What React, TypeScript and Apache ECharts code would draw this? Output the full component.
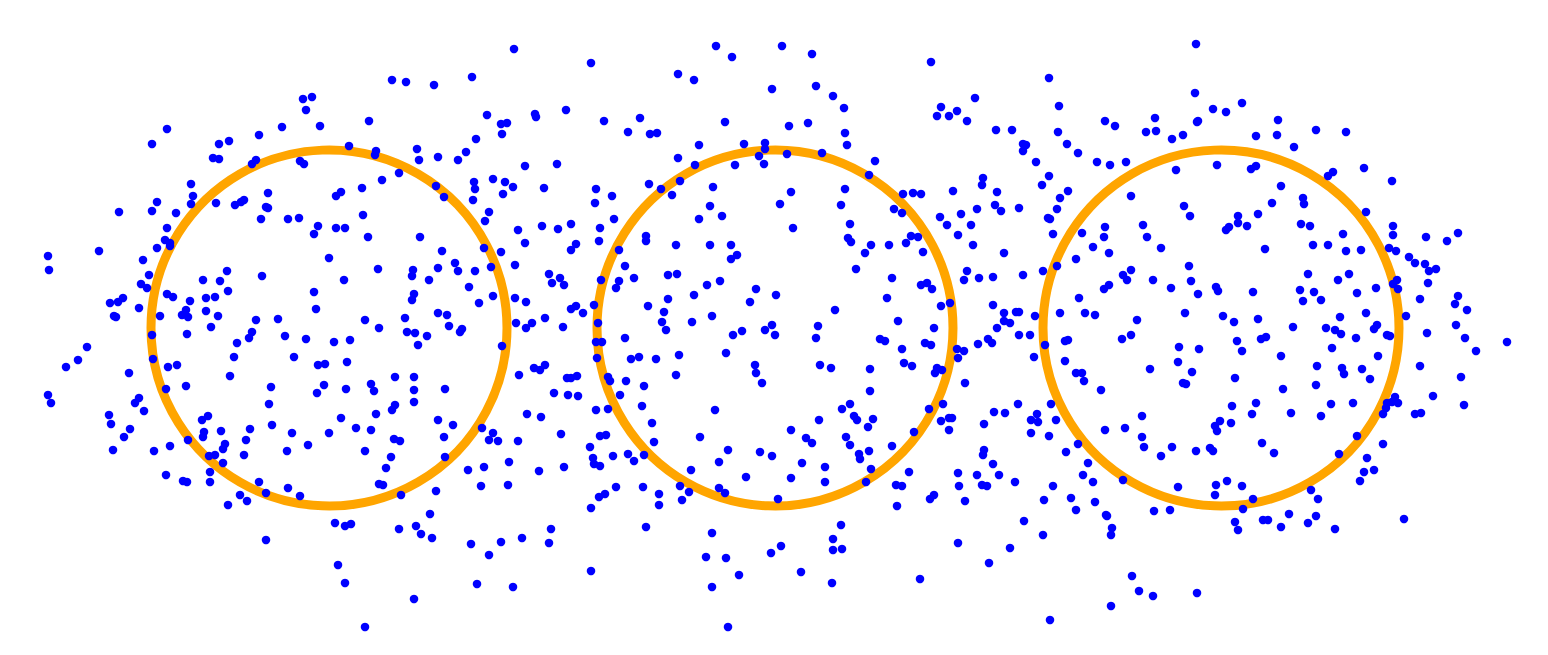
import { useEffect, useRef } from "react";
import * as echarts from "echarts";

// Blue scatter points (x to the right, y downward, image units)
const upperPoints: number[][] = [
  [303,99],[312,97],[306,110],[167,129],[152,144],[282,127],[320,126],[369,121],[259,135],[219,144],[229,141],[213,158],[219,159],[349,146],[375,155],[376,151],[252,164],[256,160],[300,161],[304,164],[382,180],[191,184],[193,196],[191,204],[157,202],[152,211],[119,212],[176,213],[216,203],[235,205],[241,202],[244,200],[268,193],[266,207],[268,208],[261,219],[288,219],[299,218],[336,196],[341,192],[362,188],[363,215],[318,226],[314,234],[336,228],[345,228],[368,237],[167,228],
  [392,80],[406,82],[434,85],[472,77],[514,49],[591,63],[716,46],[732,57],[678,74],[694,80],[772,89],[487,115],[501,124],[507,123],[502,134],[535,114],[536,117],[566,110],[604,121],[640,118],[628,132],[650,134],[657,133],[725,122],[476,139],[417,149],[419,160],[438,157],[458,160],[466,152],[525,166],[557,164],[699,145],[744,144],[765,143],[765,149],[759,156],[764,164],[678,158],[695,165],[735,165],[399,173],[436,186],[444,197],[474,182],[475,189],[473,200],[493,179],[505,182],[513,187],[503,194],[544,188],[489,212],[485,221],[518,230],[542,226],[558,229],[571,224],[596,189],[595,203],[612,196],[614,219],[600,228],[649,184],[661,189],[680,181],[672,195],[713,187],[710,206],[722,216],[699,219],[646,236],[420,237],
  [782,46],[812,54],[816,86],[833,96],[844,108],[931,62],[1049,78],[975,98],[941,107],[937,116],[949,116],[957,111],[967,121],[1059,106],[789,126],[808,123],[845,133],[847,145],[996,130],[1012,130],[1058,132],[1105,121],[1115,126],[1155,118],[1146,132],[1156,131],[1023,144],[1026,145],[1023,151],[1067,144],[1078,153],[787,154],[822,153],[875,161],[869,175],[1036,162],[1049,176],[1042,185],[1097,162],[1110,165],[1126,162],[791,192],[780,204],[845,189],[841,205],[850,224],[793,228],[903,194],[913,193],[921,194],[894,209],[902,213],[983,178],[982,185],[953,191],[997,192],[995,205],[1001,211],[977,209],[1019,208],[961,214],[940,217],[947,225],[971,225],[958,235],[1068,191],[1060,198],[1057,209],[1048,218],[1050,219],[1053,234],[1131,196],[1082,233],[1105,227],[1143,225],[1104,237],[1147,237],[911,236],[918,237],
  [1196,44],[1195,93],[1213,109],[1226,112],[1242,103],[1197,122],[1198,121],[1172,139],[1183,135],[1278,120],[1277,135],[1256,136],[1316,130],[1346,132],[1294,147],[1176,170],[1217,165],[1251,169],[1256,166],[1328,176],[1333,172],[1364,168],[1392,181],[1281,186],[1303,198],[1304,204],[1272,203],[1258,214],[1184,206],[1190,216],[1238,216],[1238,223],[1226,230],[1229,227],[1247,226],[1301,224],[1310,226],[1366,212],[1343,234],[1393,226],[1393,235],[1426,237],[1458,233]
];

const middlePoints: number[][] = [
  [165,240],[170,243],[170,246],[48,256],[49,270],[99,251],[157,248],[143,260],[149,275],[141,284],[147,288],[110,303],[118,302],[123,298],[114,316],[116,317],[139,308],[167,294],[173,297],[160,316],[190,301],[186,310],[182,315],[188,317],[206,298],[215,297],[203,280],[220,281],[227,271],[228,291],[206,311],[218,316],[211,327],[187,334],[152,335],[262,276],[314,292],[316,309],[329,258],[344,280],[378,269],[365,320],[379,328],[256,320],[278,319],[252,332],[249,338],[237,343],[285,336],[306,339],[334,342],[350,340],[234,357],[294,357],[318,365],[325,364],[347,362],[87,347],[78,360],[66,367],[153,359],[168,367],[177,365],[129,373],[230,376],[186,386],[166,389],[271,387],[269,404],[324,385],[317,393],[346,389],[371,384],[374,391],[48,395],[51,403],[139,398],[135,403],[144,411],[109,415],[111,424],[130,429],[124,437],[202,420],[208,416],[204,432],[203,437],[188,440],[221,431],[250,429],[246,440],[272,425],[292,433],[329,433],[341,418],[356,428],[371,430],[376,414],
  [442,251],[484,248],[501,252],[525,243],[571,250],[576,244],[599,241],[646,241],[676,245],[710,245],[731,245],[737,255],[731,259],[619,250],[625,266],[455,263],[458,271],[438,268],[413,270],[412,276],[429,280],[475,271],[491,267],[469,287],[515,265],[549,274],[560,278],[552,283],[564,285],[601,280],[619,281],[616,288],[634,278],[668,275],[677,274],[707,285],[720,281],[756,289],[414,294],[412,300],[493,296],[479,303],[515,298],[526,302],[571,309],[576,306],[583,313],[594,305],[648,306],[668,299],[694,295],[750,302],[664,312],[662,322],[666,330],[712,316],[692,322],[405,318],[438,313],[447,315],[449,326],[460,332],[462,329],[407,332],[415,333],[427,336],[418,345],[516,323],[526,328],[532,323],[545,318],[563,327],[598,323],[625,338],[733,335],[742,331],[765,330],[772,325],[502,346],[596,342],[602,342],[597,358],[631,359],[639,357],[656,359],[679,355],[726,353],[395,377],[414,377],[414,390],[414,402],[395,405],[392,410],[445,389],[519,375],[534,368],[540,370],[545,365],[567,378],[571,378],[577,376],[554,393],[568,395],[578,396],[608,377],[610,381],[626,381],[644,386],[620,395],[676,375],[755,365],[756,373],[762,383],[642,406],[596,410],[608,409],[527,414],[541,417],[438,420],[453,425],[444,437],[482,428],[493,433],[489,440],[498,441],[394,439],[400,441],[518,441],[561,434],[600,436],[606,435],[652,423],[654,442],[700,437],[715,410],
  [848,238],[851,242],[776,295],[775,335],[865,253],[871,245],[889,245],[906,243],[923,252],[856,269],[892,278],[921,285],[927,283],[932,289],[973,245],[1004,253],[967,271],[964,280],[979,278],[993,277],[1023,275],[1043,271],[1057,266],[1076,259],[1093,247],[1109,253],[1123,275],[1127,280],[1131,270],[1104,289],[1109,285],[1153,280],[887,298],[835,310],[818,326],[816,338],[898,321],[880,339],[885,341],[902,349],[934,328],[941,306],[950,303],[925,343],[931,345],[993,305],[1004,313],[1016,312],[1019,312],[1004,321],[1010,323],[997,328],[1035,316],[1019,335],[1030,335],[978,344],[988,339],[992,343],[957,349],[964,351],[958,358],[1045,345],[1034,357],[1060,313],[1079,298],[1085,313],[1095,315],[1137,320],[1131,335],[1122,339],[1065,341],[1068,340],[1065,361],[1076,373],[1082,373],[1084,381],[1101,390],[1150,369],[820,365],[831,368],[870,369],[904,363],[912,366],[937,368],[942,370],[935,373],[870,391],[965,383],[842,409],[850,404],[854,416],[857,420],[873,419],[868,427],[819,420],[791,430],[806,438],[846,437],[929,409],[943,404],[941,421],[949,418],[952,418],[949,430],[914,432],[994,412],[1005,413],[1018,404],[984,424],[1031,420],[1037,414],[1038,422],[1051,404],[1056,420],[1031,433],[1049,436],[1105,430],[1125,428],[1142,416],[1142,437],
  [1447,241],[1161,248],[1265,249],[1313,245],[1328,245],[1346,251],[1361,250],[1389,248],[1396,251],[1409,257],[1415,263],[1425,264],[1429,271],[1436,269],[1189,266],[1191,281],[1171,288],[1198,294],[1216,287],[1218,291],[1253,292],[1308,274],[1338,280],[1349,274],[1300,290],[1314,292],[1303,301],[1321,300],[1357,293],[1376,288],[1393,284],[1397,280],[1398,289],[1428,283],[1420,299],[1458,296],[1455,304],[1467,310],[1185,313],[1223,316],[1234,322],[1258,319],[1293,327],[1340,317],[1366,313],[1326,328],[1335,330],[1341,334],[1374,329],[1377,325],[1356,338],[1387,335],[1390,336],[1406,316],[1427,333],[1456,325],[1465,338],[1476,351],[1507,342],[1237,341],[1242,351],[1261,339],[1266,337],[1179,347],[1199,349],[1178,362],[1192,372],[1183,383],[1186,384],[1235,378],[1281,356],[1332,348],[1317,366],[1342,368],[1344,374],[1362,369],[1370,379],[1378,356],[1420,366],[1461,377],[1316,385],[1283,389],[1395,397],[1387,403],[1392,402],[1398,403],[1386,408],[1383,414],[1415,414],[1421,413],[1433,396],[1464,405],[1331,404],[1353,403],[1321,416],[1291,413],[1256,403],[1252,414],[1232,406],[1231,423],[1220,421],[1215,426],[1217,431],[1357,436]
];

const lowerPoints: number[][] = [
  [113,450],[154,451],[170,446],[225,444],[223,449],[209,456],[215,455],[244,455],[223,463],[210,472],[210,482],[166,475],[183,481],[187,482],[287,451],[308,445],[365,451],[386,468],[379,484],[383,485],[259,482],[266,493],[240,495],[247,501],[228,505],[288,488],[300,496],[335,523],[345,526],[351,524],[266,540],[338,565],[345,583],[365,627],
  [391,457],[401,495],[436,491],[445,457],[468,470],[484,467],[481,486],[509,462],[508,485],[539,471],[564,467],[590,447],[593,458],[594,464],[600,466],[613,456],[628,454],[634,461],[644,455],[599,497],[605,494],[616,487],[591,508],[643,487],[659,494],[659,505],[680,486],[689,492],[682,500],[691,470],[728,450],[719,462],[760,452],[772,456],[746,477],[719,488],[725,493],[646,527],[712,533],[706,557],[726,558],[739,575],[712,587],[771,553],[591,571],[430,514],[399,529],[416,526],[421,534],[432,538],[471,544],[489,555],[501,542],[522,538],[551,529],[549,543],[477,584],[513,587],[414,599],[728,627],
  [812,443],[850,445],[892,446],[1078,444],[1144,447],[802,463],[825,467],[825,482],[791,478],[778,499],[859,454],[860,459],[869,451],[871,469],[866,482],[909,472],[896,485],[902,486],[897,506],[930,499],[934,495],[958,473],[959,486],[965,501],[977,475],[984,450],[983,455],[993,464],[999,475],[982,485],[987,486],[1015,482],[1053,486],[1066,452],[1088,463],[1083,475],[1093,482],[1123,480],[1044,500],[1071,498],[1076,510],[1095,502],[1106,515],[1107,516],[1112,528],[1111,535],[1154,511],[1024,521],[1043,535],[1010,548],[958,543],[989,563],[841,525],[833,539],[833,550],[842,549],[781,546],[801,572],[832,583],[920,579],[1050,620],[1132,576],[1139,591],[1153,596],[1111,606],
  [1161,456],[1172,447],[1196,451],[1210,448],[1213,451],[1262,443],[1274,453],[1339,454],[1383,444],[1367,458],[1364,472],[1374,470],[1360,481],[1178,487],[1216,485],[1215,495],[1227,481],[1242,486],[1253,499],[1243,509],[1170,510],[1235,522],[1238,530],[1263,520],[1268,520],[1281,527],[1289,514],[1311,490],[1318,499],[1308,523],[1316,516],[1335,529],[1404,519],[1197,593]
];

// Three orange rings: centres and common radius (same units)
const ringCentersX = [329, 775, 1221];
const ringCenterY = 328;
const ringRadius = 178;

export default function App() {
  const ref = useRef<HTMLDivElement>(null);

  useEffect(() => {
    if (!ref.current) return;
    const chart = echarts.init(ref.current, null, { renderer: "svg" });
    const ringData = ringCentersX.map((x) => [x, ringCenterY, ringRadius]);
    chart.setOption({
      animation: false,
      backgroundColor: "#ffffff",
      grid: { left: 0, right: 0, top: 0, bottom: 0, containLabel: false },
      xAxis: { type: "value", min: 0, max: 1548, show: false },
      yAxis: { type: "value", min: 0, max: 655, inverse: true, show: false },
      series: [
        {
          type: "custom",
          data: ringData,
          z: 1,
          silent: true,
          clip: false,
          renderItem: (_params: any, api: any) => {
            const cx = api.value(0);
            const cy = api.value(1);
            const r = api.value(2);
            const c = api.coord([cx, cy]);
            const e = api.coord([cx + r, cy]);
            return {
              type: "circle",
              shape: { cx: c[0], cy: c[1], r: Math.abs(e[0] - c[0]) },
              style: { fill: null, stroke: "#FFA500", lineWidth: 9 },
            };
          },
        },
        {
          type: "scatter",
          data: [...upperPoints, ...middlePoints, ...lowerPoints],
          symbol: "circle",
          symbolSize: 8.5,
          itemStyle: { color: "#0000FF", opacity: 1 },
          z: 2,
          silent: true,
          clip: false,
        },
      ],
    });
    return () => chart.dispose();
  }, []);

  return (
    <div
      ref={ref}
      style={{ position: "fixed", left: 0, top: 0, width: 1548, height: 655, background: "#fff" }}
    />
  );
}
